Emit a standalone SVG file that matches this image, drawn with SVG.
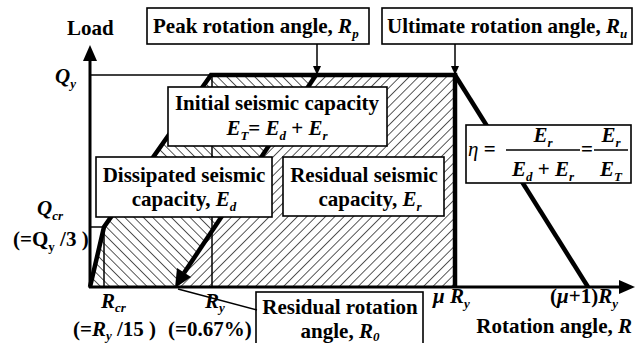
<svg xmlns="http://www.w3.org/2000/svg" width="635" height="343" viewBox="0 0 635 343">
<style>
.t{font-family:"Liberation Serif","Times New Roman",serif;font-weight:bold;font-size:21px;fill:#000}
.v{font-style:italic}
.s{font-size:13px}
.box{fill:#fff;stroke:#000;stroke-width:1.6}
.thin{stroke:#000;stroke-width:1.5;fill:none}
.thick{stroke:#000;stroke-width:4.5;fill:none;stroke-linejoin:miter}
.axis{stroke:#000;stroke-width:3;fill:none}
</style>
<defs>
<pattern id="hb" patternUnits="userSpaceOnUse" width="6.6" height="6.6" patternTransform="rotate(-45)">
<line x1="0" y1="0" x2="0" y2="6.6" stroke="#222" stroke-width="1.5"/>
</pattern>
<pattern id="hf" patternUnits="userSpaceOnUse" width="6.6" height="6.6" patternTransform="rotate(45)">
<line x1="0" y1="0" x2="0" y2="6.6" stroke="#222" stroke-width="1.5"/>
</pattern>
<marker id="ah" markerWidth="10" markerHeight="10" refX="9" refY="5" orient="auto" markerUnits="userSpaceOnUse">
<path d="M0,1 L9,5 L0,9 Z" fill="#000"/>
</marker>
</defs>

<g id="hatch">
<polygon points="90,287 104,227 211,75 316,75 175,287" fill="url(#hb)"/>
<polygon points="316,75 455,75 455,287 175,287" fill="url(#hf)"/>
</g>

<g id="guides">
<line class="thin" x1="90" y1="75" x2="212" y2="75"/>
<line class="thin" x1="90" y1="227" x2="104" y2="227"/>
<line class="thin" x1="104" y1="227" x2="104" y2="287"/>
<line class="thin" x1="212" y1="75" x2="212" y2="287"/>
</g>

<g id="axes">
<line class="axis" x1="90" y1="288" x2="90" y2="58"/>
<polygon points="90,45 83,61 97,61" fill="#000"/>
<line class="axis" x1="89" y1="287" x2="622" y2="287"/>
<polygon points="635,287 619,280 619,294" fill="#000"/>
</g>

<g id="curve">
<polyline class="thick" points="90,287 104,227 211,75 455,75 455,287"/>
<line class="thick" x1="455" y1="75" x2="588" y2="287"/>
<line class="thick" x1="316" y1="75" x2="184" y2="273"/>
<polygon points="175,288 177,268 191,277" fill="#000"/>
</g>

<g id="axis-labels">
<text class="t" x="67" y="35">Load</text>
<text class="t" x="55" y="83"><tspan class="v">Q</tspan><tspan class="v s" dy="5">y</tspan></text>
<text class="t" x="37" y="215"><tspan class="v">Q</tspan><tspan class="v s" dy="5">cr</tspan></text>
<text class="t" x="13" y="246">(=Q<tspan class="s" dy="5">y</tspan><tspan dy="-5"> /3 )</tspan></text>
<text class="t" x="101" y="308"><tspan class="v">R</tspan><tspan class="v s" dy="4">cr</tspan></text>
<text class="t" x="205" y="308"><tspan class="v">R</tspan><tspan class="v s" dy="4">y</tspan></text>
<text class="t" x="156" y="336" text-anchor="end">(=<tspan class="v">R</tspan><tspan class="v s" dy="4">y</tspan><tspan dy="-4"> /15 )</tspan></text>
<text class="t" x="168" y="336">(=0.67%)</text>
<text class="t" x="433" y="303"><tspan class="v">μ</tspan> <tspan class="v">R</tspan><tspan class="v s" dy="5">y</tspan></text>
<text class="t" x="550" y="303">(<tspan class="v">μ</tspan>+1)<tspan class="v">R</tspan><tspan class="v s" dy="5">y</tspan></text>
<text class="t" x="632" y="333" text-anchor="end">Rotation angle, <tspan class="v">R</tspan></text>
</g>

<g id="peak">
<rect class="box" x="147" y="8" width="222" height="36"/>
<text class="t" x="153" y="33">Peak rotation angle, <tspan class="v">R</tspan><tspan class="v s" dy="5">p</tspan></text>
</g>

<g id="ultimate">
<rect class="box" x="382" y="8" width="250" height="36"/>
<text class="t" x="387" y="33">Ultimate rotation angle, <tspan class="v">R</tspan><tspan class="v s" dy="5">u</tspan></text>
</g>

<g id="initial">
<rect class="box" x="168" y="87" width="219" height="59"/>
<text class="t" x="277" y="110" text-anchor="middle">Initial seismic capacity</text>
<text class="t" x="277" y="135" text-anchor="middle"><tspan class="v">E</tspan><tspan class="v s" dy="5">T</tspan><tspan dy="-5">= </tspan><tspan class="v">E</tspan><tspan class="v s" dy="5">d</tspan><tspan dy="-5"> + </tspan><tspan class="v">E</tspan><tspan class="v s" dy="5">r</tspan></text>
</g>

<g id="dissipated">
<rect class="box" x="96" y="157" width="176" height="60"/>
<text class="t" x="184" y="182" text-anchor="middle">Dissipated seismic</text>
<text class="t" x="184" y="206" text-anchor="middle">capacity, <tspan class="v">E</tspan><tspan class="v s" dy="5">d</tspan></text>
</g>

<g id="residual">
<rect class="box" x="283" y="157" width="161" height="59"/>
<text class="t" x="364" y="182" text-anchor="middle">Residual seismic</text>
<text class="t" x="370" y="206" text-anchor="middle">capacity,  <tspan class="v">E</tspan><tspan class="v s" dy="5">r</tspan></text>
</g>

<g id="eta">
<rect class="box" x="466" y="125" width="165" height="58"/>
<text class="t" x="468" y="156"><tspan class="v" font-weight="normal">η</tspan> =</text>
<line x1="506" y1="150" x2="580" y2="150" stroke="#000" stroke-width="1.5"/>
<text class="t" x="543" y="142" text-anchor="middle"><tspan class="v">E</tspan><tspan class="v s" dy="5">r</tspan></text>
<text class="t" x="543" y="176" text-anchor="middle"><tspan class="v">E</tspan><tspan class="v s" dy="5">d</tspan><tspan dy="-5"> + </tspan><tspan class="v">E</tspan><tspan class="v s" dy="5">r</tspan></text>
<text class="t" x="581" y="156">=</text>
<line x1="594" y1="150" x2="628" y2="150" stroke="#000" stroke-width="1.5"/>
<text class="t" x="611" y="142" text-anchor="middle"><tspan class="v">E</tspan><tspan class="v s" dy="5">r</tspan></text>
<text class="t" x="611" y="176" text-anchor="middle"><tspan class="v">E</tspan><tspan class="v s" dy="5">T</tspan></text>
</g>

<g id="residual-angle">
<rect class="box" x="256" y="292" width="167" height="60"/>
<text class="t" x="340" y="314" text-anchor="middle" font-size="20">Residual rotation</text>
<text class="t" x="340" y="338" text-anchor="middle" font-size="20">angle, <tspan class="v">R</tspan><tspan class="v s" dy="3">0</tspan></text>
</g>

<g id="connectors">
<line class="thin" x1="317" y1="44" x2="317" y2="75" marker-end="url(#ah)"/>
<line class="thin" x1="455" y1="44" x2="455" y2="75" marker-end="url(#ah)"/>
<line class="thin" x1="257" y1="310" x2="178" y2="289"/>
</g>
</svg>
